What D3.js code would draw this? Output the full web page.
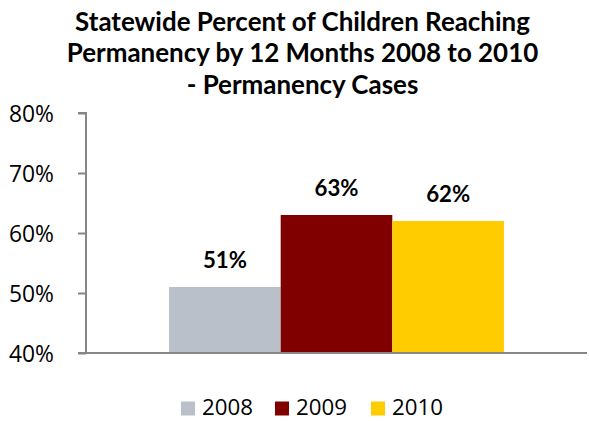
<!DOCTYPE html>
<html>
<head>
<meta charset="utf-8">
<script src="https://cdn.jsdelivr.net/npm/d3@7"></script>
<style>
  html, body { margin: 0; padding: 0; background: #fff; }
  svg { display: block; }
</style>
</head>
<body>
<svg id="chart" width="589" height="421"></svg>
<script>
// ---- data ----
const titleLines = ["Statewide Percent of Children Reaching", "Permanency by 12 Months 2008 to 2010", "- Permanency Cases"];
const categories = ["Permanency Cases"];
const years = ["2008", "2009", "2010"];
const values = [0.51, 0.63, 0.62];
const yTicks = [0.4, 0.5, 0.6, 0.7, 0.8];
const colors = ["#BAC0CA", "#800000", "#FFCC00"];

(function () {
const svg = d3.select("#chart");
const pLeft = 86, pRight = 587, pTop = 113, pBottom = 353;
const font = "'Open Sans', Lato, sans-serif";
const boldFont = "Lato, 'Open Sans', sans-serif";

// font size fitting helper: size so that sample text has target width
function fitSize(sample, family, weight, target) {
  const t = svg.append("text").style("font-family", family).style("font-weight", weight)
    .style("font-size", "20px").text(sample);
  const w = t.node().getComputedTextLength();
  t.remove();
  return 20 * target / w;
}
const tickFs = fitSize("80%", font, "normal", 45);
const legFs = fitSize("2008", font, "normal", 51);
const lblFs = fitSize("63%", boldFont, "bold", 44);
const titleFs = fitSize(titleLines[0], boldFont, "bold", 455);

const y = d3.scaleLinear().domain([0.4, 0.8]).range([pBottom, pTop]);
const x0 = d3.scaleBand().domain(categories).range([pLeft, pRight]).paddingOuter(0.248).paddingInner(0);
const x1 = d3.scaleBand().domain(years).range([0, x0.bandwidth()]).padding(0);

// title
svg.append("g").selectAll("text").data(titleLines).join("text")
  .attr("x", 302.5)
  .attr("y", (d, i) => 30.5 + i * 31.5)
  .attr("text-anchor", "middle")
  .style("font-family", boldFont)
  .style("font-weight", "bold")
  .style("font-size", titleFs + "px")
  .attr("fill", "#000")
  .text(d => d);

// bars
const g = svg.append("g");
const bars = categories.flatMap(c => years.map((yr, i) => ({c, yr, v: values[i], col: colors[i]})));
g.selectAll("rect").data(bars).join("rect")
  .attr("x", d => x0(d.c) + x1(d.yr))
  .attr("width", x1.bandwidth())
  .attr("y", d => y(d.v))
  .attr("height", d => y(0.4) - y(d.v))
  .attr("fill", d => d.col);

// data labels
g.selectAll("text.lbl").data(bars).join("text")
  .attr("class", "lbl")
  .attr("x", d => x0(d.c) + x1(d.yr) + x1.bandwidth() / 2)
  .attr("y", d => y(d.v) - 19)
  .attr("text-anchor", "middle")
  .style("font-family", boldFont)
  .style("font-weight", "bold")
  .style("font-size", lblFs + "px")
  .attr("fill", "#000")
  .text(d => Math.round(d.v * 100) + "%");

// y axis
const yAxis = svg.append("g")
  .attr("transform", `translate(${pLeft},0)`)
  .call(d3.axisLeft(y).tickValues(yTicks).tickFormat(d3.format(".0%")).tickSize(8).tickPadding(24));
yAxis.select(".domain").attr("stroke", "#868686").attr("stroke-width", 2).attr("d", `M-8,${pTop}H0V${pBottom}`);
yAxis.selectAll(".tick line").attr("stroke", "#868686").attr("stroke-width", 2);
yAxis.selectAll(".tick text")
  .attr("dy", "0.36em")
  .style("font-family", font)
  .style("font-size", tickFs + "px")
  .attr("fill", "#000");

// x baseline
svg.append("line")
  .attr("x1", pLeft - 8).attr("x2", pRight)
  .attr("y1", y(0.4)).attr("y2", y(0.4))
  .attr("stroke", "#868686").attr("stroke-width", 2);

// legend
const legendX = [181, 275, 371];
const leg = svg.append("g").selectAll("g").data(years).join("g")
  .attr("transform", (d, i) => `translate(${legendX[i]},401.5)`);
leg.append("rect").attr("width", 14).attr("height", 14).attr("fill", (d, i) => colors[i]);
leg.append("text")
  .attr("x", 21).attr("y", 13.5)
  .style("font-family", font)
  .style("font-size", legFs + "px")
  .attr("fill", "#000")
  .text(d => d);
})();
</script>
</body>
</html>
